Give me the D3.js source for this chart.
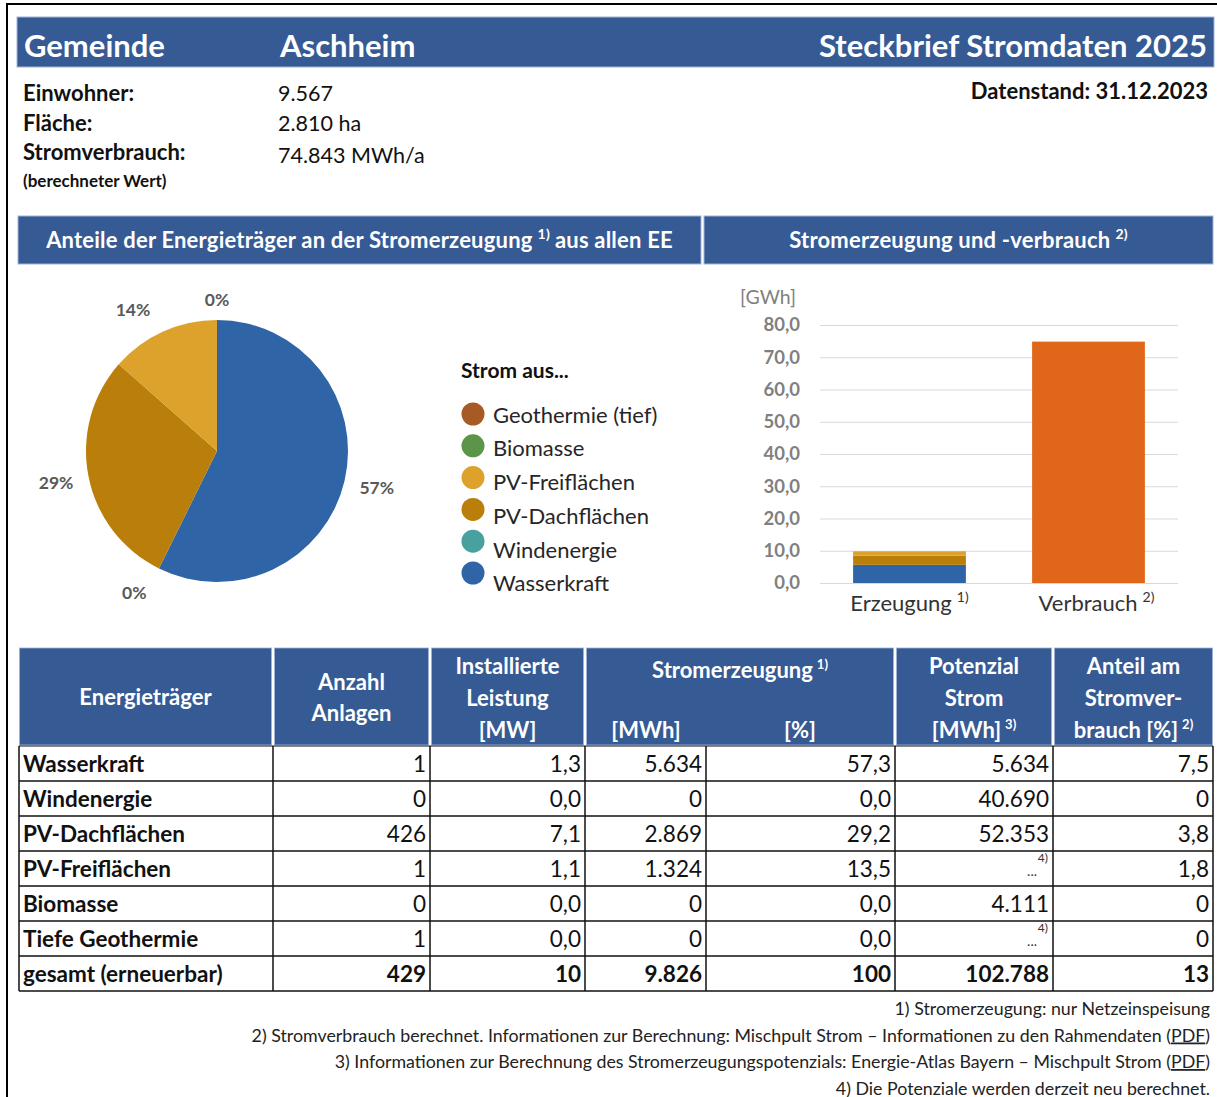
<!DOCTYPE html>
<html>
<head>
<meta charset="utf-8">
<script src="https://cdn.jsdelivr.net/npm/d3@7"></script>
<style>
  body { margin: 0; background: #fff; }
  svg { display: block; font-family: Lato, "Open Sans", sans-serif; }
</style>
</head>
<body>
<div id="chart"></div>
<script>
// ---- data ----
var gemeinde = "Aschheim";
var titel = "Steckbrief Stromdaten 2025";
var datenstand = "31.12.2023";
var infoLabels = ["Einwohner:", "Fläche:", "Stromverbrauch:"];
var infoValues = ["9.567", "2.810 ha", "74.843 MWh/a"];

var sources = ["Wasserkraft", "Windenergie", "PV-Dachflächen", "PV-Freiflächen", "Biomasse", "Tiefe Geothermie"];
var legendNames = ["Wasserkraft", "Windenergie", "PV-Dachflächen", "PV-Freiflächen", "Biomasse", "Geothermie (tief)"];
var colors = ["#2f64a6", "#48a19e", "#b97f0a", "#dca22b", "#5b9549", "#a85a24"];

var anlagen = [1, 0, 426, 1, 0, 1];
var leistungMW = [1.3, 0.0, 7.1, 1.1, 0.0, 0.0];
var erzeugungMWh = [5634, 0, 2869, 1324, 0, 0];
var erzeugungPct = [57.3, 0.0, 29.2, 13.5, 0.0, 0.0];
var potenzialMWh = [5634, 40690, 52353, null, 4111, null];
var anteilVerbrauch = [7.5, 0, 3.8, 1.8, 0, 0];
var totals = [429, 10, 9826, 100, 102788, 13];

var barCats = ["Erzeugung", "Verbrauch"];
var barNotes = ["1)", "2)"];
var verbrauchGWh = 74.843;
var yTicks = [0, 10, 20, 30, 40, 50, 60, 70, 80];

var footnotes = [
  "1) Stromerzeugung: nur Netzeinspeisung",
  "2) Stromverbrauch berechnet. Informationen zur Berechnung: Mischpult Strom – Informationen zu den Rahmendaten (",
  "3) Informationen zur Berechnung des Stromerzeugungspotenzials: Energie-Atlas Bayern – Mischpult Strom (",
  "4) Die Potenziale werden derzeit neu berechnet."
];

// ---- setup ----
var W = 1217, H = 1097;
var blue = "#365a94";
var de = d3.formatLocale({decimal: ",", thousands: ".", grouping: [3], currency: ["", " €"]});
var fInt = de.format(",.0f");
var f1 = de.format(",.1f");

var svg = d3.select("#chart").append("svg")
  .attr("width", W).attr("height", H);

svg.append("rect").attr("width", W).attr("height", H).attr("fill", "#fff");
svg.append("path").attr("d", "M7," + H + "V4H" + W)
  .attr("fill", "none").attr("stroke", "#000").attr("stroke-width", 2);

// title bar
svg.append("rect").attr("x", 17).attr("y", 17).attr("width", 1197).attr("height", 50)
  .attr("fill", blue).attr("stroke", "#9fb3d6").attr("stroke-width", 1);
svg.append("text").attr("x", 24).attr("y", 57).attr("fill", "#fff")
  .attr("font-size", 31).attr("font-weight", 700).text("Gemeinde");
svg.append("text").attr("x", 280).attr("y", 57).attr("fill", "#fff")
  .attr("font-size", 31).attr("font-weight", 700).text(gemeinde);
svg.append("text").attr("x", 1207).attr("y", 57).attr("fill", "#fff")
  .attr("text-anchor", "end").attr("font-size", 31).attr("font-weight", 700).text(titel);

// info
infoLabels.forEach(function(d, i) {
  svg.append("text").attr("x", 23).attr("y", 101 + i * 29.5)
    .attr("font-size", 22).attr("font-weight", 700).attr("fill", "#111").text(d);
  svg.append("text").attr("x", 278).attr("y", 101 + i * 30 + (i == 2 ? 2 : 0))
    .attr("font-size", 21.5).attr("fill", "#111").text(infoValues[i]);
});
svg.append("text").attr("x", 23).attr("y", 187).attr("font-size", 17)
  .attr("font-weight", 700).attr("fill", "#111").text("(berechneter Wert)");
svg.append("text").attr("x", 1208).attr("y", 99).attr("text-anchor", "end")
  .attr("font-size", 22).attr("font-weight", 700).attr("fill", "#111")
  .text("Datenstand: " + datenstand);

// section headers
function sectionHeader(x0, x1, label, note, after) {
  svg.append("rect").attr("x", x0).attr("y", 216).attr("width", x1 - x0).attr("height", 48)
    .attr("fill", blue).attr("stroke", "#9fb3d6").attr("stroke-width", 1);
  var t = svg.append("text").attr("x", (x0 + x1) / 2).attr("y", 248)
    .attr("text-anchor", "middle").attr("fill", "#fff").attr("font-size", 22)
    .attr("font-weight", 700).attr("letter-spacing", 0.2);
  t.append("tspan").text(label);
  t.append("tspan").attr("dx", 5).attr("dy", -9).attr("font-size", 14).text(note);
  if (after) t.append("tspan").attr("dx", 5).attr("dy", 9).text(after);
}
sectionHeader(18, 701, "Anteile der Energieträger an der Stromerzeugung", "1)", "aus allen EE");
sectionHeader(704, 1213, "Stromerzeugung und -verbrauch", "2)");

// ---- pie ----
var cx = 217, cy = 451, R = 131;
var pie = d3.pie().sort(null).value(function(d) { return d; });
var arcs = pie(erzeugungPct);
var arc = d3.arc().innerRadius(0).outerRadius(R);
var gPie = svg.append("g").attr("transform", "translate(" + cx + "," + cy + ")");
gPie.selectAll("path").data(arcs).enter().append("path")
  .attr("d", arc).attr("fill", function(d, i) { return colors[i]; });

// label placement tweaks (degrees / radius) to mimic best-fit labels
var labelShift = [0, 4, 0, -6.5, 0, 0];
var labelRad = [164, 164, 164, 164, 151, 151];
var seen = {};
arcs.forEach(function(d, i) {
  var a = (d.startAngle + d.endAngle) / 2;
  var key = a.toFixed(3);
  if (seen[key]) return;
  seen[key] = true;
  var aa = a + labelShift[i] * Math.PI / 180;
  var r = labelRad[i];
  gPie.append("text")
    .attr("x", Math.sin(aa) * r)
    .attr("y", -Math.cos(aa) * r)
    .attr("dy", "0.35em").attr("text-anchor", "middle")
    .attr("font-size", 17.5).attr("font-weight", 700).attr("fill", "#595959")
    .text(Math.round(d.data) + "%");
});

// legend
svg.append("text").attr("x", 461).attr("y", 378).attr("font-size", 21)
  .attr("font-weight", 700).attr("fill", "#111").text("Strom aus...");
var legendIdx = d3.range(sources.length).reverse();
legendIdx.forEach(function(si, j) {
  svg.append("circle").attr("cx", 473).attr("cy", 414 + j * 31.8).attr("r", 11.5)
    .attr("fill", colors[si]);
  svg.append("text").attr("x", 493).attr("y", 415 + j * 33.7).attr("dy", "0.35em")
    .attr("font-size", 22).attr("fill", "#262626").text(legendNames[si]);
});

// ---- bar chart ----
var x = d3.scaleBand().domain(barCats).range([820, 1178]).paddingInner(0.37).paddingOuter(0.185);
var y = d3.scaleLinear().domain([0, 80]).range([583, 325]);

var yAxis = svg.append("g").attr("transform", "translate(820,0)")
  .call(d3.axisLeft(y).tickValues(yTicks).tickSize(-358).tickPadding(20)
    .tickFormat(function(d) { return f1(d); }));
yAxis.select(".domain").remove();
yAxis.selectAll("line").attr("stroke", "#d9d9d9");
yAxis.selectAll("text").attr("font-size", 18.5).attr("font-weight", 700)
  .attr("fill", "#808080").attr("font-family", "Lato, sans-serif");
svg.append("text").attr("x", 740).attr("y", 304).attr("font-size", 19.5)
  .attr("fill", "#808080").text("[GWh]");

var stackRows = [{}];
sources.forEach(function(s, i) { stackRows[0][s] = erzeugungMWh[i] / 1000; });
var stacked = d3.stack().keys(sources)(stackRows);
svg.append("g").selectAll("rect").data(stacked).enter().append("rect")
  .attr("x", x("Erzeugung")).attr("width", x.bandwidth())
  .attr("y", function(d) { return y(d[0][1]); })
  .attr("height", function(d) { return y(d[0][0]) - y(d[0][1]); })
  .attr("fill", function(d, i) { return colors[i]; });
svg.append("rect").attr("x", x("Verbrauch")).attr("width", x.bandwidth())
  .attr("y", y(verbrauchGWh)).attr("height", y(0) - y(verbrauchGWh)).attr("fill", "#e0661a");

barCats.forEach(function(c, i) {
  var t = svg.append("text").attr("x", x(c) + x.bandwidth() / 2 + (i == 0 ? 0 : 8)).attr("y", 611)
    .attr("text-anchor", "middle").attr("font-size", 22).attr("fill", "#333");
  t.append("tspan").text(c);
  t.append("tspan").attr("dx", 5).attr("dy", -9).attr("font-size", 14).text(barNotes[i]);
});

// ---- table ----
var colX = [19, 273, 430, 585, 706, 895, 1053, 1213];
var hTop = 648, hBot = 745, rowH = 35;
var hFont = 22;

var headCells = [
  {x0: 18, x1: 273, lines: ["Energieträger"], ys: [697]},
  {x0: 273, x1: 430, lines: ["Anzahl", "Anlagen"], ys: [682, 713]},
  {x0: 430, x1: 585, lines: ["Installierte", "Leistung", "[MW]"], ys: [666, 698, 730]},
  {x0: 585, x1: 895, lines: [], ys: []},
  {x0: 895, x1: 1053, lines: ["Potenzial", "Strom", "[MWh]"], ys: [666, 698, 730], notes: [null, null, "3)"]},
  {x0: 1053, x1: 1214, lines: ["Anteil am", "Stromver-", "brauch [%]"], ys: [666, 698, 730], notes: [null, null, "2)"]}
];
headCells.forEach(function(c) {
  svg.append("rect").attr("x", c.x0 + 1.5).attr("y", hTop).attr("width", c.x1 - c.x0 - 3)
    .attr("height", hBot - hTop).attr("fill", blue).attr("stroke", "#9fb3d6").attr("stroke-width", 0.8);
  c.lines.forEach(function(l, k) {
    var t = svg.append("text").attr("x", (c.x0 + c.x1) / 2).attr("y", c.ys[k]).attr("dy", "0.35em")
      .attr("text-anchor", "middle").attr("fill", "#fff").attr("font-size", hFont).attr("font-weight", 700);
    t.append("tspan").text(l);
    if (c.notes && c.notes[k]) t.append("tspan").attr("dx", 4).attr("dy", -9).attr("font-size", 13).text(c.notes[k]);
  });
});
var hs = svg.append("text").attr("x", 740).attr("y", 670).attr("dy", "0.35em")
  .attr("text-anchor", "middle").attr("fill", "#fff").attr("font-size", hFont).attr("font-weight", 700);
hs.append("tspan").text("Stromerzeugung");
hs.append("tspan").attr("dx", 4).attr("dy", -9).attr("font-size", 13).text("1)");
svg.append("text").attr("x", 646).attr("y", 730).attr("dy", "0.35em").attr("text-anchor", "middle")
  .attr("fill", "#fff").attr("font-size", hFont).attr("font-weight", 700).text("[MWh]");
svg.append("text").attr("x", 800).attr("y", 730).attr("dy", "0.35em").attr("text-anchor", "middle")
  .attr("fill", "#fff").attr("font-size", hFont).attr("font-weight", 700).text("[%]");

// body rows
var rows = sources.map(function(s, i) {
  return [s, fInt(anlagen[i]), f1(leistungMW[i]), fInt(erzeugungMWh[i]), f1(erzeugungPct[i]),
    potenzialMWh[i] == null ? null : fInt(potenzialMWh[i]),
    anteilVerbrauch[i] === 0 ? "0" : f1(anteilVerbrauch[i])];
});
rows.push(["gesamt (erneuerbar)"].concat(totals.map(function(v) { return fInt(v); })));

var bodyTop = hBot + 1;
rows.forEach(function(r, ri) {
  var yc = bodyTop + ri * rowH + rowH / 2 + 1;
  var bold = ri == rows.length - 1;
  r.forEach(function(v, ci) {
    if (ci == 0) {
      svg.append("text").attr("x", 23).attr("y", yc).attr("dy", "0.35em")
        .attr("font-size", 22.5).attr("font-weight", 700).attr("fill", "#111").text(v);
    } else if (v == null) {
      svg.append("text").attr("x", colX[ci + 1] - 16).attr("y", yc + 2).attr("dy", "0.35em")
        .attr("text-anchor", "end").attr("font-size", 14).attr("fill", "#333").text("...");
      svg.append("text").attr("x", colX[ci + 1] - 5).attr("y", yc - 8).attr("text-anchor", "end")
        .attr("font-size", 12).attr("fill", "#333").text("4)");
    } else {
      svg.append("text").attr("x", colX[ci + 1] - 4).attr("y", yc).attr("dy", "0.35em")
        .attr("text-anchor", "end").attr("font-size", 22.5).attr("font-weight", bold ? 700 : 400)
        .attr("fill", "#111").text(v);
    }
  });
});
var nRows = rows.length;
var gLines = svg.append("g").attr("stroke", "#111").attr("stroke-width", 1.5);
d3.range(nRows + 1).forEach(function(k) {
  var yy = bodyTop + k * rowH;
  gLines.append("line").attr("x1", colX[0]).attr("x2", colX[colX.length - 1])
    .attr("y1", yy).attr("y2", yy).attr("stroke-width", k == 0 ? 1 : 1.5);
});
colX.forEach(function(cx0) {
  gLines.append("line").attr("x1", cx0).attr("x2", cx0)
    .attr("y1", bodyTop).attr("y2", bodyTop + nRows * rowH);
});

// footnotes
footnotes.forEach(function(f, i) {
  var t = svg.append("text").attr("x", 1210).attr("y", 1015 + i * 26.5)
    .attr("text-anchor", "end").attr("font-size", 17.8).attr("fill", "#222");
  t.append("tspan").text(f);
  if (i == 1 || i == 2) {
    t.append("tspan").attr("text-decoration", "underline").text("PDF");
    t.append("tspan").text(")");
  }
});
</script>
</body>
</html>
